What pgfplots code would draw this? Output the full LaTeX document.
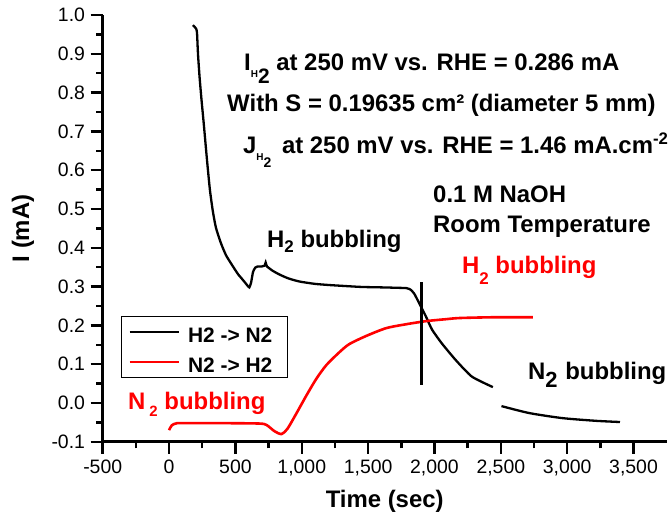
\documentclass[border=0pt]{standalone}
\usepackage{fontspec}
\setmainfont{Liberation Sans}
\usepackage{pgfplots}
\pgfplotsset{compat=1.18}
\definecolor{myred}{RGB}{255,0,0}
\newcommand{\ann}{\bfseries\fontsize{24}{28}\selectfont}

\begin{document}
\begin{tikzpicture}
\begin{axis}[
  at={(0,0)}, anchor=south west,
  scale only axis, width=564bp, height=426.8bp,
  xmin=-500, xmax=3750, ymin=-0.1, ymax=1.0,
  axis x line*=bottom, axis y line*=left,
  axis line style={line width=2.8bp, -},
  xtick={-500,0,500,1000,1500,2000,2500,3000,3500},
  ytick={-0.1,0,0.1,0.2,0.3,0.4,0.5,0.6,0.7,0.8,0.9,1.0},
  minor x tick num=1, minor y tick num=1,
  tick align=outside,
  major tick length=12bp, minor tick length=6.5bp,
  tick style={black, line width=2.5bp},
  scaled x ticks=false, scaled y ticks=false,
  tick label style={font=\fontsize{19.5}{22}\selectfont},
  /pgf/number format/assume math mode=true,
  xticklabel style={/pgf/number format/1000 sep={,}, yshift=-2.5bp},
  yticklabel style={/pgf/number format/.cd, fixed, fixed zerofill, precision=1, /tikz/.cd, xshift=-2.2bp},
  xlabel={Time (sec)}, ylabel={I (mA)},
  label style={font=\bfseries\fontsize{24}{28}\selectfont},
  xlabel style={at={(axis description cs:0.5,-0.1387)}, anchor=center},
  ylabel style={at={(axis description cs:-0.1413,0.5)}, anchor=center},
  legend style={at={(axis description cs:0.0324,0.2948)}, anchor=north west, draw=black, line width=0.9bp, fill=white, inner xsep=7bp, inner ysep=5bp, row sep=9bp, font=\bfseries\fontsize{21}{21}\selectfont, nodes={inner xsep=8bp, inner ysep=0bp, text height=21bp, text depth=0bp}},
  legend cell align=left,
  legend image code/.code={\draw[#1] (0bp,0bp) -- (49bp,0bp);},
  clip=false,
]
\addplot[black, line width=2.3bp, smooth, tension=0.35] coordinates {
(180,0.974) (205,0.964) (211,0.952) (218,0.900) (230,0.840) (245,0.780) (262,0.718) (286,0.626)
(308,0.549) (331,0.492) (354,0.451) (391,0.412) (429,0.381) (474,0.356) (520,0.332) (557,0.317)
(590,0.303) (605,0.298) (618,0.310) (633,0.338) (650,0.349) (668,0.352) (700,0.352) (720,0.354)
(728,0.362) (738,0.352) (780,0.341) (833,0.331) (900,0.321) (984,0.313) (1100,0.307) (1209,0.304)
(1350,0.301) (1457,0.299) (1600,0.298) (1712,0.297) (1790,0.296) (1820,0.292) (1847,0.282)
(1884,0.258) (1937,0.222) (1982,0.189) (2057,0.153) (2162,0.110) (2282,0.068) (2440,0.041)
};
\addlegendentry{H2 -> N2}
\addplot[myred, line width=2.6bp, smooth, tension=0.45] coordinates {
(0,-0.070) (20,-0.058) (60,-0.052) (180,-0.052) (435,-0.052) (683,-0.053) (736,-0.057)
(796,-0.073) (848,-0.080) (893,-0.066) (961,-0.026) (1036,0.020) (1111,0.063) (1186,0.098)
(1284,0.131) (1359,0.152) (1487,0.173) (1637,0.193) (1787,0.203) (1937,0.211) (2087,0.216)
(2190,0.219) (2450,0.221) (2742,0.221)
};
\addlegendentry{N2 -> H2}
\addplot[black, line width=2.3bp, smooth, tension=0.4, forget plot] coordinates {
(2505,-0.008) (2715,-0.026) (2965,-0.039) (3220,-0.046) (3398,-0.049)
};
\addplot[black, line width=3bp, forget plot] coordinates {(1906,0.311) (1906,0.046)};

\node[anchor=base west, inner sep=0, font=\ann] at (axis cs:565,0.8582)
  {I\raisebox{-7bp}{\fontsize{10}{10}\selectfont H}\raisebox{-13bp}{\fontsize{21}{21}\selectfont 2} at 250 mV vs. RHE = 0.286 mA};
\node[anchor=base west, inner sep=0, font=\ann] at (axis cs:437,0.75)
  {With S = 0.19635 cm² (diameter 5 mm)};
\node[anchor=base west, inner sep=0, font=\ann] at (axis cs:557,0.6443)
  {J\raisebox{-7bp}{\fontsize{10}{10}\selectfont H}\raisebox{-14bp}{\fontsize{14}{14}\selectfont 2}\hspace{4bp} at 250 mV vs. RHE = 1.46 mA.cm\textsuperscript{-2}};
\node[anchor=base west, inner sep=0, font=\ann] at (axis cs:1989,0.5155) {0.1 M NaOH};
\node[anchor=base west, inner sep=0, font=\ann] at (axis cs:1989,0.4407) {Room Temperature};
\node[anchor=base west, inner sep=0, font=\ann] at (axis cs:738,0.3995)
  {H\raisebox{-5bp}{\fontsize{17}{17}\selectfont 2} bubbling};
\node[anchor=base west, inner sep=0, font=\ann, text=myred] at (axis cs:2207,0.3325)
  {H\raisebox{-11bp}{\fontsize{17}{17}\selectfont 2} bubbling};
\node[anchor=base west, inner sep=0, font=\ann, text=myred] at (axis cs:-309,-0.018)
  {N\,\raisebox{-7bp}{\fontsize{15}{15}\selectfont 2} bubbling};
\node[anchor=base west, inner sep=0, font=\ann] at (axis cs:2705,0.0593)
  {N\raisebox{-8bp}{\fontsize{22}{22}\selectfont 2}\hspace{1bp} bubbling};
\end{axis}
\pgfresetboundingbox
\path[use as bounding box] (-102.7bp,-74.2bp) rectangle (569.3bp,441.8bp);
\end{tikzpicture}
\end{document}
